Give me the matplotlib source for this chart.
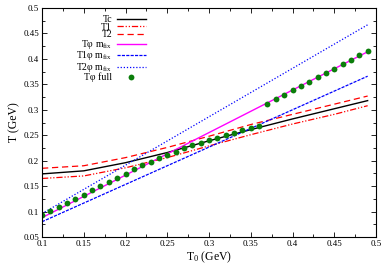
import matplotlib
matplotlib.use("Agg")
import matplotlib.pyplot as plt
from matplotlib.ticker import MultipleLocator
import numpy as np

plt.rcParams['font.family'] = ['Liberation Serif', 'DejaVu Serif']
plt.rcParams['mathtext.fontset'] = 'custom'
plt.rcParams['mathtext.rm'] = 'Liberation Serif'
plt.rcParams['mathtext.it'] = 'Liberation Serif:italic'

# critical / transition temperatures vs T0
t0_curve = [0.10, 0.15, 0.20, 0.25, 0.30, 0.35, 0.40, 0.45, 0.49]
tc = [0.174, 0.180, 0.196, 0.216, 0.239, 0.261, 0.282, 0.302, 0.318]
t1 = [0.165, 0.170, 0.186, 0.206, 0.229, 0.251, 0.272, 0.291, 0.308]
t2 = [0.185, 0.190, 0.206, 0.226, 0.248, 0.271, 0.291, 0.311, 0.327]

# fixed-mass straight lines
t0_fix = [0.10, 0.49]
tphi_fix = [0.088, 0.414]
t1phi_fix = [0.080, 0.366]
t2phi_fix = [0.096, 0.467]

# full calculation
t0_full = [0.10, 0.11, 0.12, 0.13, 0.14, 0.15, 0.16, 0.17, 0.18, 0.19,
           0.20, 0.21, 0.22, 0.23, 0.24, 0.25, 0.26, 0.27, 0.28, 0.29,
           0.30, 0.31, 0.32, 0.33, 0.34, 0.35, 0.36, 0.37, 0.38, 0.39,
           0.40, 0.41, 0.42, 0.43, 0.44, 0.45, 0.46, 0.47, 0.48, 0.49]
tphi_full = [0.093, 0.101, 0.109, 0.117, 0.125, 0.133, 0.142, 0.150, 0.159, 0.166,
             0.174, 0.183, 0.191, 0.198, 0.205, 0.211, 0.218, 0.224, 0.230, 0.234,
             0.240, 0.245, 0.250, 0.255, 0.260, 0.264, 0.269, 0.312, 0.321, 0.330,
             0.338, 0.347, 0.355, 0.364, 0.372, 0.381, 0.389, 0.398, 0.407, 0.415]

fig = plt.figure(figsize=(3.9, 2.73), dpi=100)
ax = fig.add_axes([42/390, 1-237/273, 334/390, 229/273])

ax.plot(t0_curve, tc, color='black', lw=1.0, label='Tc')
ax.plot(t0_curve, t1, color='red', lw=0.9, dashes=(5, 1.5, 1, 1.5, 1, 1.5), label='T1')
ax.plot(t0_curve, t2, color='red', lw=0.9, dashes=(5, 3), label='T2')
ax.plot(t0_fix, tphi_fix, color='magenta', lw=1.0, label='Tφ m$_{\\rm fix}$')
ax.plot(t0_fix, t1phi_fix, color='blue', lw=0.9, dashes=(2.5, 1), label='T1φ m$_{\\rm fix}$')
ax.plot(t0_fix, t2phi_fix, color='blue', lw=0.9, dashes=(1, 1.5), label='T2φ m$_{\\rm fix}$')
ax.plot(t0_full, tphi_full, 'o', color='#0b7d0b', ms=4.2, mec='none', label='Tφ full')

ax.set_xlim(0.1, 0.5)
ax.set_ylim(0.05, 0.5)
ax.xaxis.set_major_locator(MultipleLocator(0.05))
ax.xaxis.set_minor_locator(MultipleLocator(0.025))
ax.yaxis.set_major_locator(MultipleLocator(0.05))
ax.yaxis.set_minor_locator(MultipleLocator(0.025))
ax.xaxis.set_major_formatter(plt.FuncFormatter(lambda v, p: ('%g' % round(v, 3))))
ax.yaxis.set_major_formatter(plt.FuncFormatter(lambda v, p: ('%g' % round(v, 3))))
ax.tick_params(which='both', direction='in', top=True, right=True, labelsize=6.5, pad=2, width=0.6)
ax.tick_params(which='major', length=3.5)
ax.tick_params(which='minor', length=2)
for s in ax.spines.values():
    s.set_linewidth(0.8)

ax.set_xlabel('T$_0$ (GeV)', fontsize=8.5, labelpad=1)
ax.set_ylabel('T (GeV)', fontsize=8.5, labelpad=2)

# gnuplot-style key: right-aligned labels followed by the sample
ax.legend(loc='upper left', bbox_to_anchor=(0.08, 1.0), frameon=False, fontsize=7,
          markerfirst=False, handlelength=3.0, handletextpad=0.5,
          labelspacing=-0.15, borderpad=0.25)

fig.savefig('out.png', dpi=100)
